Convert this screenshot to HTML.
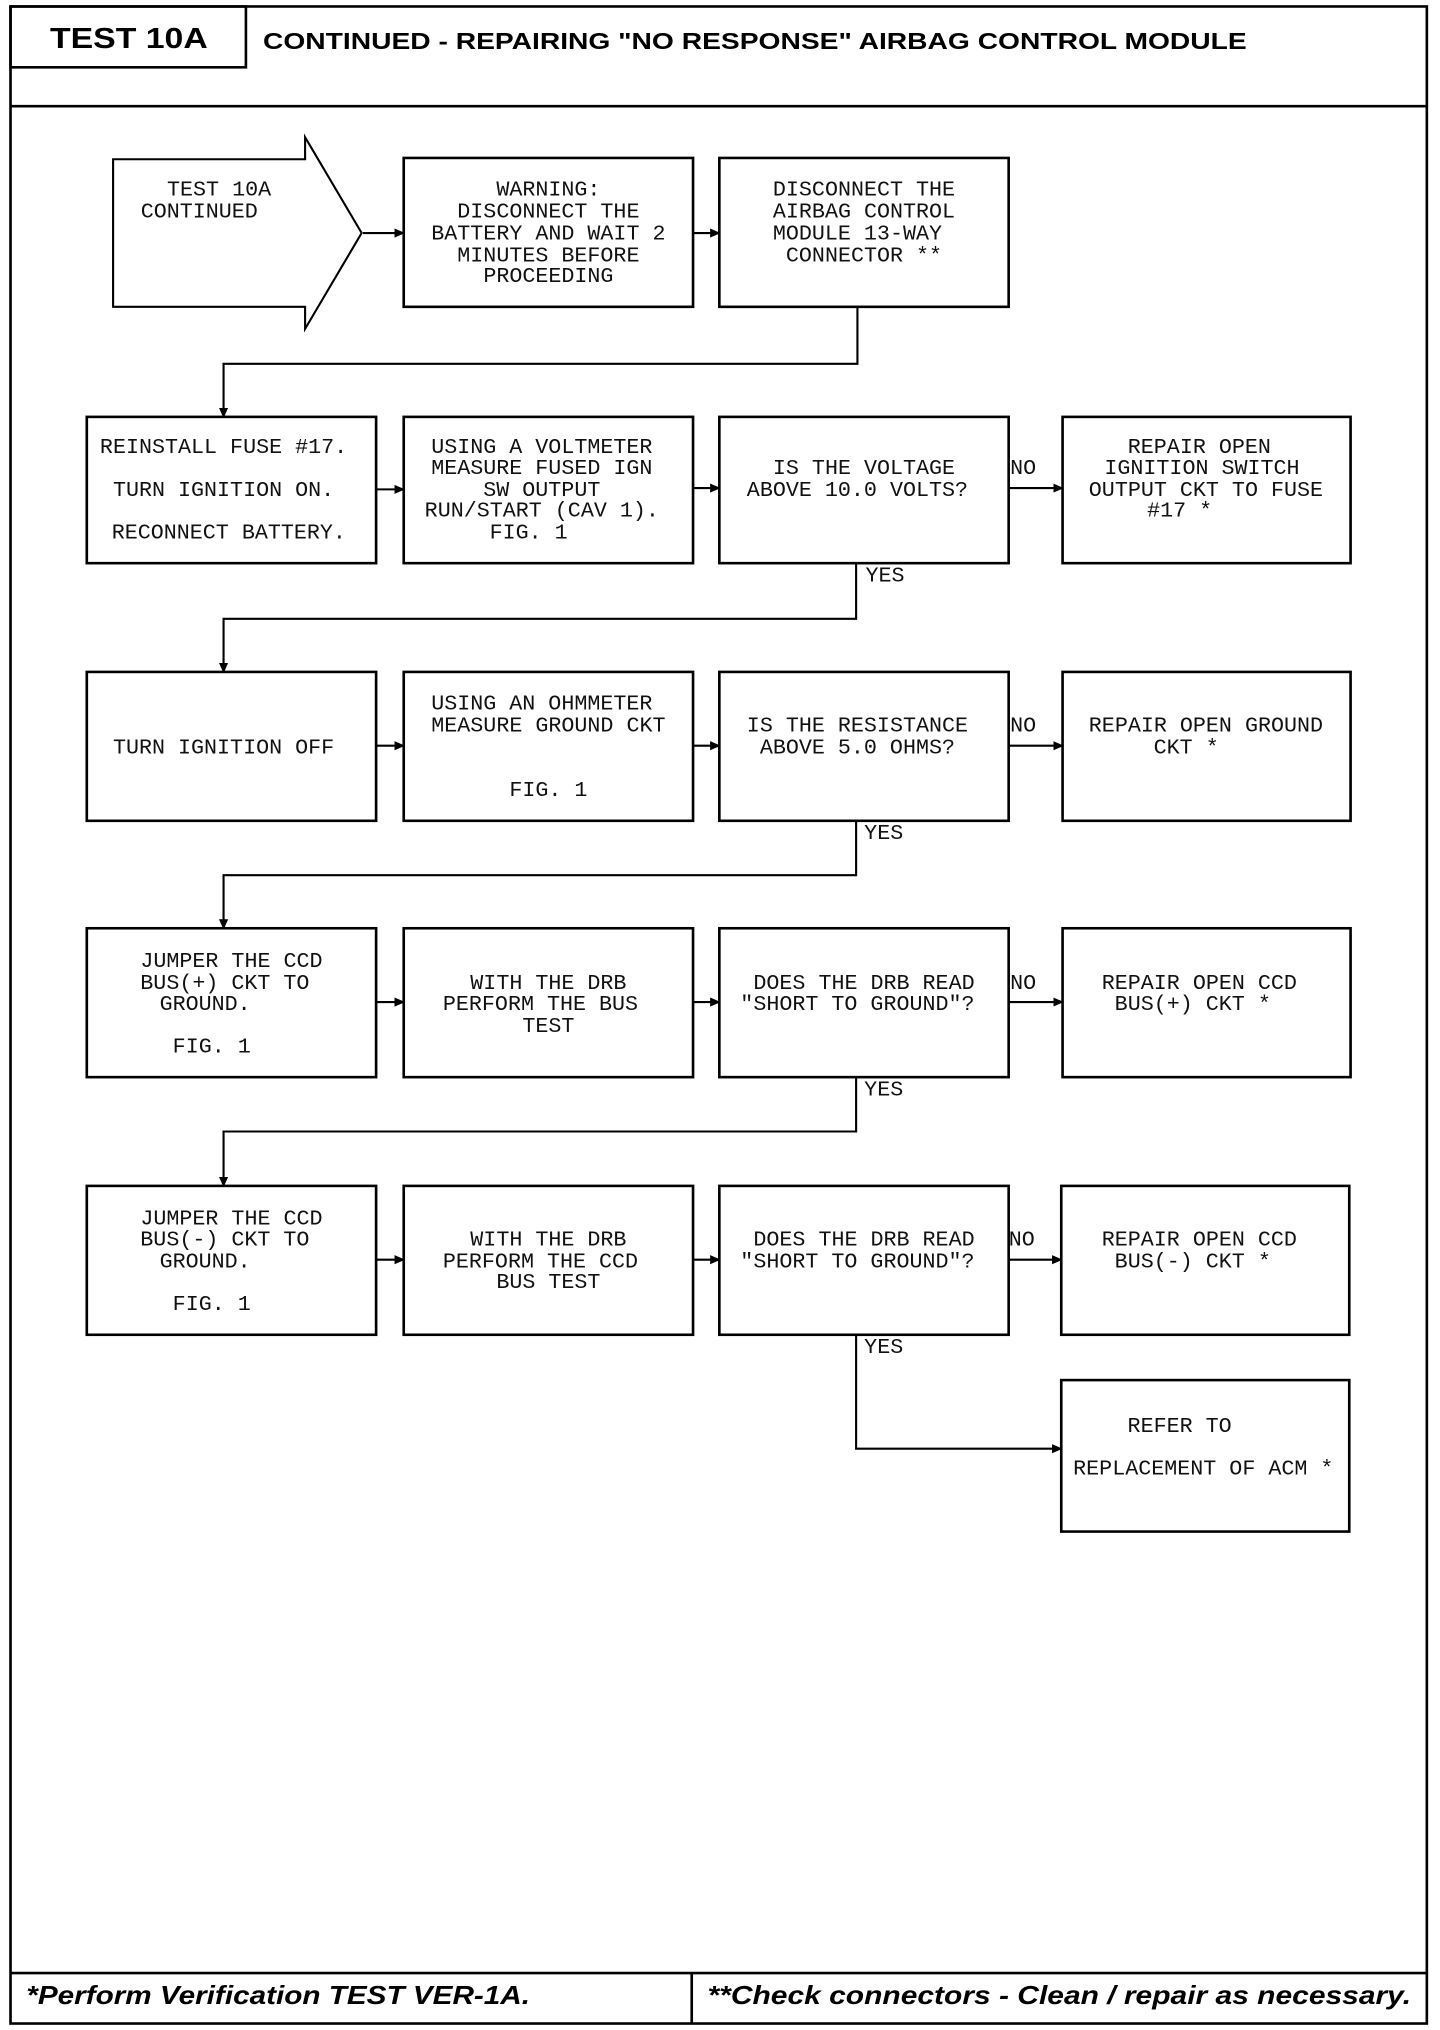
<!DOCTYPE html>
<html><head><meta charset="utf-8"><style>
html,body{margin:0;padding:0;background:#fff;}
svg{display:block;}
.t{font-family:"Liberation Mono",monospace;font-size:16.5px;fill:#111;text-anchor:middle;}
</style></head><body>
<svg width="1440" height="2030" viewBox="0 0 1095 1568" preserveAspectRatio="none" xmlns="http://www.w3.org/2000/svg">
<defs><marker id="a" markerWidth="8" markerHeight="8" refX="7" refY="4" orient="auto" markerUnits="userSpaceOnUse"><path d="M0,0.5 L8,4 L0,7.5 z" fill="#000"/></marker></defs>
<g fill="none" stroke="#000" stroke-width="2">
<rect x="8" y="5" width="1077" height="1558"/>
<rect x="8" y="5" width="179" height="47"/>
<line x1="8" y1="82" x2="1085" y2="82"/>
<line x1="8" y1="1524" x2="1085" y2="1524"/>
<line x1="526" y1="1524" x2="526" y2="1563"/>
<polygon points="86,123 232,123 232,106 275,180 232,254 232,237 86,237" stroke-width="1.6"/>
<rect x="307" y="122" width="220" height="115"/>
<rect x="547" y="122" width="220" height="115"/>
<rect x="66" y="322" width="220" height="113"/><rect x="307" y="322" width="220" height="113"/><rect x="547" y="322" width="220" height="113"/><rect x="808" y="322" width="219" height="113"/>
<rect x="66" y="519" width="220" height="115"/><rect x="307" y="519" width="220" height="115"/><rect x="547" y="519" width="220" height="115"/><rect x="808" y="519" width="219" height="115"/>
<rect x="66" y="717" width="220" height="115"/><rect x="307" y="717" width="220" height="115"/><rect x="547" y="717" width="220" height="115"/><rect x="808" y="717" width="219" height="115"/>
<rect x="66" y="916" width="220" height="115"/><rect x="307" y="916" width="220" height="115"/><rect x="547" y="916" width="220" height="115"/><rect x="807" y="916" width="219" height="115"/>
<rect x="807" y="1066" width="219" height="117"/>
</g>
<g fill="none" stroke="#000" stroke-width="1.6" marker-end="url(#a)">
<line x1="276" y1="180" x2="307" y2="180"/><line x1="527" y1="180" x2="547" y2="180"/>
<polyline points="652,237 652,281 170,281 170,322"/>
<line x1="286" y1="378" x2="307" y2="378"/><line x1="527" y1="377" x2="547" y2="377"/><line x1="767" y1="377" x2="808" y2="377"/>
<polyline points="651,435 651,478 170,478 170,519"/>
<line x1="286" y1="576" x2="307" y2="576"/><line x1="527" y1="576" x2="547" y2="576"/><line x1="767" y1="576" x2="808" y2="576"/>
<polyline points="651,634 651,676 170,676 170,717"/>
<line x1="286" y1="774" x2="307" y2="774"/><line x1="527" y1="774" x2="547" y2="774"/><line x1="767" y1="774" x2="808" y2="774"/>
<polyline points="651,832 651,874 170,874 170,916"/>
<line x1="286" y1="973" x2="307" y2="973"/><line x1="527" y1="973" x2="547" y2="973"/><line x1="767" y1="973" x2="807" y2="973"/>
<polyline points="651,1031 651,1119 807,1119"/>
</g>
<g font-family="Liberation Sans, sans-serif" font-weight="bold" fill="#000">
<text x="38" y="37" font-size="22" textLength="120" lengthAdjust="spacingAndGlyphs">TEST 10A</text>
<text x="200" y="38" font-size="18" textLength="748" lengthAdjust="spacingAndGlyphs">CONTINUED - REPAIRING "NO RESPONSE" AIRBAG CONTROL MODULE</text>
<text x="20" y="1548" font-size="20" font-style="italic" textLength="383" lengthAdjust="spacingAndGlyphs">*Perform Verification TEST VER-1A.</text>
<text x="538" y="1548" font-size="20" font-style="italic" textLength="535" lengthAdjust="spacingAndGlyphs">**Check connectors - Clean / repair as necessary.</text>
</g>
<g class="t">
<text x="167" y="151" style="text-anchor:start" x-dummy="">&#8203;</text>
<text x="127" y="151" style="text-anchor:start">TEST 10A</text>
<text x="107" y="168" style="text-anchor:start">CONTINUED</text>
<text x="417" y="151">WARNING:</text><text x="417" y="168">DISCONNECT THE</text><text x="417" y="185">BATTERY AND WAIT 2</text><text x="417" y="202">MINUTES BEFORE</text><text x="417" y="218">PROCEEDING</text>
<text x="657" y="151">DISCONNECT THE</text><text x="657" y="168">AIRBAG CONTROL</text><text x="652" y="185">MODULE 13-WAY</text><text x="657" y="202">CONNECTOR **</text>
<text x="170" y="350">REINSTALL FUSE #17.</text><text x="170" y="383">TURN IGNITION ON.</text><text x="174" y="416">RECONNECT BATTERY.</text>
<text x="412" y="350">USING A VOLTMETER</text><text x="412" y="366">MEASURE FUSED IGN</text><text x="412" y="383">SW OUTPUT</text><text x="412" y="399">RUN/START (CAV 1).</text><text x="402" y="416">FIG. 1</text>
<text x="657" y="366">IS THE VOLTAGE</text><text x="652" y="383">ABOVE 10.0 VOLTS?</text>
<text x="912" y="350">REPAIR OPEN</text><text x="914" y="366">IGNITION SWITCH</text><text x="917" y="383">OUTPUT CKT TO FUSE</text><text x="897" y="399">#17 *</text>
<text x="170" y="582">TURN IGNITION OFF</text>
<text x="412" y="548">USING AN OHMMETER</text><text x="417" y="565">MEASURE GROUND CKT</text><text x="417" y="615">FIG. 1</text>
<text x="652" y="565">IS THE RESISTANCE</text><text x="652" y="582">ABOVE 5.0 OHMS?</text>
<text x="917" y="565">REPAIR OPEN GROUND</text><text x="902" y="582">CKT *</text>
<text x="176" y="747">JUMPER THE CCD</text><text x="171" y="764">BUS(+) CKT TO</text><text x="156" y="780">GROUND.</text><text x="161" y="813">FIG. 1</text>
<text x="417" y="764">WITH THE DRB</text><text x="411" y="780">PERFORM THE BUS</text><text x="417" y="797">TEST</text>
<text x="657" y="764">DOES THE DRB READ</text><text x="652" y="780">"SHORT TO GROUND"?</text>
<text x="912" y="764">REPAIR OPEN CCD</text><text x="907" y="780">BUS(+) CKT *</text>
<text x="176" y="946">JUMPER THE CCD</text><text x="171" y="962">BUS(-) CKT TO</text><text x="156" y="979">GROUND.</text><text x="161" y="1012">FIG. 1</text>
<text x="417" y="962">WITH THE DRB</text><text x="411" y="979">PERFORM THE CCD</text><text x="417" y="995">BUS TEST</text>
<text x="657" y="962">DOES THE DRB READ</text><text x="652" y="979">"SHORT TO GROUND"?</text>
<text x="912" y="962">REPAIR OPEN CCD</text><text x="907" y="979">BUS(-) CKT *</text>
<text x="897" y="1106">REFER TO</text><text x="915" y="1139">REPLACEMENT OF ACM *</text>
<text x="778" y="366">NO</text><text x="778" y="565">NO</text><text x="778" y="764">NO</text><text x="777" y="962">NO</text>
<text x="673" y="449">YES</text><text x="672" y="648">YES</text><text x="672" y="846">YES</text><text x="672" y="1045">YES</text>
</g>
</svg>
</body></html>
